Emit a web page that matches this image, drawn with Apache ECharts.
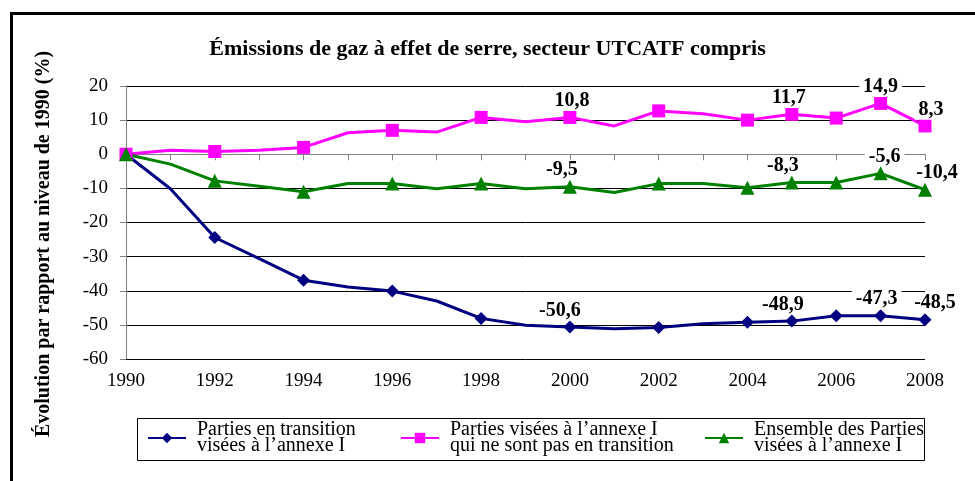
<!DOCTYPE html>
<html lang="fr">
<head>
  <meta charset="UTF-8">
  <title>Émissions de gaz à effet de serre</title>
  <script src="https://cdn.jsdelivr.net/npm/echarts@6/dist/echarts.min.js"></script>
  <style>
    html, body { margin: 0; padding: 0; background: #fff; }
    #main { width: 975px; height: 481px; }
  </style>
</head>
<body>
  <div id="main"></div>
  <script>
    // années et valeurs (% par rapport à 1990)
    var years = ['1990','1991','1992','1993','1994','1995','1996','1997','1998','1999',
                 '2000','2001','2002','2003','2004','2005','2006','2007','2008'];
    var transition = [0, -10.1, -24.4, -30.6, -36.9, -38.9, -40.1, -43.0, -48.1, -50.1,
                      -50.6, -51.1, -50.8, -49.7, -49.2, -48.9, -47.3, -47.3, -48.5];
    var horsTransition = [0, 1.2, 0.8, 1.2, 2.0, 6.3, 7.0, 6.5, 10.8, 9.5,
                          10.8, 8.3, 12.7, 11.9, 10.0, 11.7, 10.6, 14.9, 8.3];
    var ensemble = [0, -2.9, -7.8, -9.4, -11.0, -8.6, -8.6, -10.1, -8.6, -10.1,
                    -9.5, -11.2, -8.6, -8.6, -9.8, -8.3, -8.3, -5.6, -10.4];
    // années avec marqueur / avec étiquette
    var markedYears = ['1990','1992','1994','1996','1998','2000','2002','2004','2005','2006','2007','2008'];
    var labelYears = ['2000','2005','2007','2008'];
    var yTicks = { min: -60, max: 20, step: 10 };

    var serif = "'Liberation Serif', 'Times New Roman', serif";

    // petits décalages horizontaux des étiquettes
    var labelShift = {
      t: { '2000': [-10, 0], '2005': [-9, 0], '2007': [-4, 0], '2008': [10, 0] },
      h: { '2000': [2, 0], '2005': [-3, 0], '2007': [0, 0], '2008': [6, 0] },
      e: { '2000': [-8, 0], '2005': [-9, 0], '2007': [4, 0], '2008': [12, 0] }
    };

    function fmt(v) { return String(v).replace('.', ','); }

    function buildData(values, key) {
      return values.map(function (v, i) {
        var y = years[i];
        var item = { value: v };
        if (markedYears.indexOf(y) < 0) item.symbol = 'none';
        if (labelYears.indexOf(y) >= 0) {
          item.label = {
            show: true,
            position: 'top',
            distance: 0,
            offset: labelShift[key][y],
            formatter: function (p) { return fmt(p.value); },
            fontFamily: serif,
            fontWeight: 'bold',
            fontSize: 20,
            lineHeight: 20,
            color: '#000',
            backgroundColor: '#fff',
            padding: [0, 4]
          };
        }
        return item;
      });
    }

    var myChart = echarts.init(document.getElementById('main'));

    var legendText = { fontFamily: serif, fontSize: 20, color: '#000', lineHeight: 16, padding: [0, 0, 0, 6] };
    function legendAt(x, name) {
      return {
        data: [name], left: x, top: 420, padding: 0, orient: 'horizontal',
        itemWidth: 38, itemHeight: 13, itemGap: 6,
        textStyle: legendText
      };
    }

    var nameT = 'Parties en transition\nvisées à l’annexe I';
    var nameH = 'Parties visées à l’annexe I\nqui ne sont pas en transition';
    var nameE = 'Ensemble des Parties\nvisées à l’annexe I';

    var option = {
      animation: false,
      title: {
        text: 'Émissions de gaz à effet de serre, secteur UTCATF compris',
        left: 'center', top: 33,
        textStyle: { fontFamily: serif, fontWeight: 'bold', fontSize: 22, color: '#000' }
      },
      legend: [legendAt(147, nameT), legendAt(400, nameH), legendAt(704, nameE)],
      grid: { left: 126, right: 50, top: 86, bottom: 122 },
      xAxis: {
        type: 'category',
        data: years,
        boundaryGap: false,
        axisLine: { lineStyle: { color: '#808080', width: 1 } },
        axisTick: { interval: 0, length: 6, lineStyle: { color: '#808080' } },
        axisLabel: { interval: 1, margin: 13, fontFamily: serif, fontSize: 19, color: '#000' }
      },
      yAxis: {
        type: 'value',
        min: yTicks.min, max: yTicks.max, interval: yTicks.step,
        axisLine: { show: true, lineStyle: { color: '#808080', width: 1 } },
        axisTick: { show: true, length: 6, lineStyle: { color: '#808080' } },
        axisLabel: { margin: 18, fontFamily: serif, fontSize: 19, color: '#000' },
        splitLine: { lineStyle: { color: '#000', width: 1 } }
      },
      graphic: [
        { type: 'rect', left: 9, top: 11, shape: { width: 1000, height: 500 },
          style: { fill: 'none', stroke: '#000', lineWidth: 3 }, silent: true },
        { type: 'rect', left: 135, top: 416, shape: { width: 787, height: 42 },
          style: { fill: 'none', stroke: '#000', lineWidth: 1 }, silent: true },
        { type: 'text', x: 44, y: 244, rotation: Math.PI / 2,
          style: { text: 'Évolution par rapport au niveau de 1990 (%)', fontFamily: serif,
                   fontWeight: 'bold', fontSize: 20, fill: '#000', align: 'center', verticalAlign: 'middle' } }
      ],
      series: [
        { name: nameT, type: 'line', data: buildData(transition, 't'),
          symbol: 'diamond', symbolSize: 13,
          lineStyle: { color: '#000080', width: 3 }, itemStyle: { color: '#000080' }, z: 3 },
        { name: nameH, type: 'line', data: buildData(horsTransition, 'h'),
          symbol: 'rect', symbolSize: 13,
          lineStyle: { color: '#ff00ff', width: 3 }, itemStyle: { color: '#ff00ff' }, z: 3 },
        { name: nameE, type: 'line', data: buildData(ensemble, 'e'),
          symbol: 'triangle', symbolSize: 14,
          lineStyle: { color: '#008000', width: 3 }, itemStyle: { color: '#008000' }, z: 3 }
      ]
    };

    myChart.setOption(option);
  </script>
</body>
</html>
